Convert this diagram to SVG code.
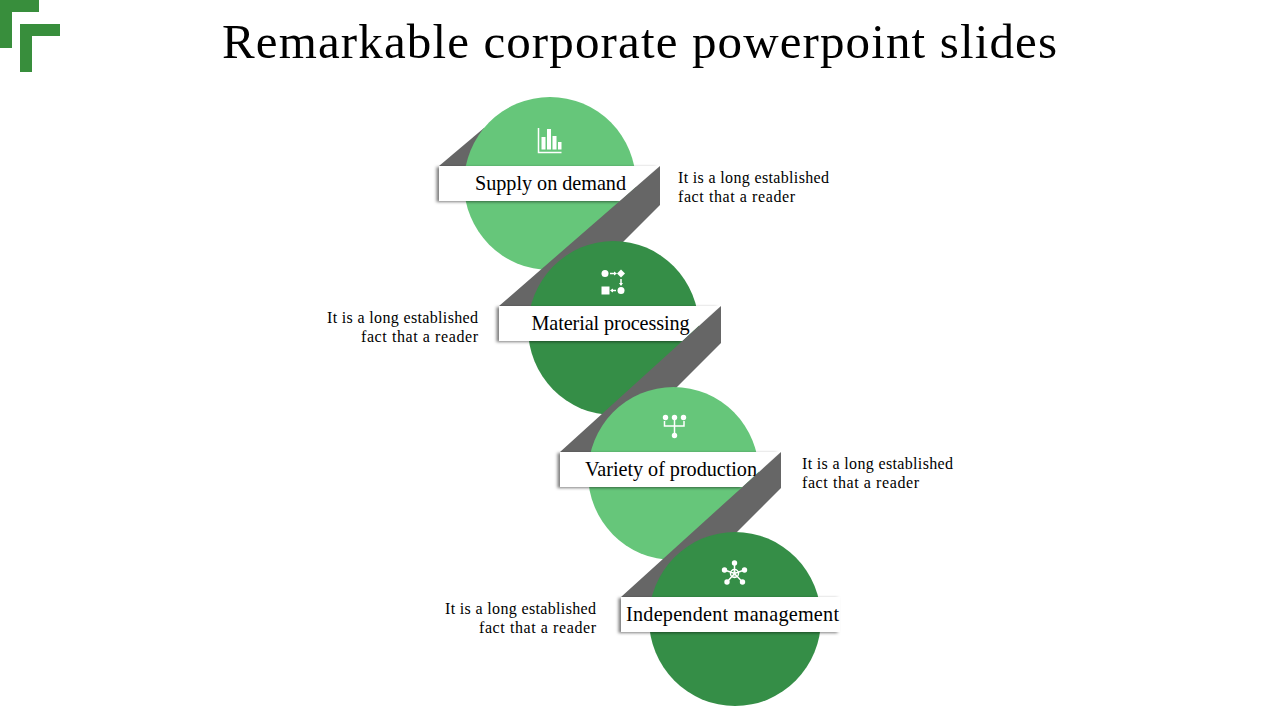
<svg xmlns="http://www.w3.org/2000/svg" width="1280" height="720" viewBox="0 0 1280 720">
<style>
text{font-family:"Liberation Serif","Times New Roman",serif;fill:#000}
.title{font-size:49px}
.lab{font-size:20.200px;text-anchor:middle}
.d{font-size:16px}
.e{text-anchor:end}
.light{fill:#66c67a}
.dark{fill:#358e47}
.rib{fill:#666}
.lbl{fill:#fff;filter:url(#sh)}
.ic{fill:#fff;stroke:none}
.il{fill:none;stroke:#fff;stroke-width:1.5}
</style>
<defs>
<filter id="sh" x="-5%" y="-20%" width="110%" height="150%"><feDropShadow dx="-2.500" dy="1" stdDeviation="1.800" flood-color="#000" flood-opacity=".5"/></filter>
</defs>
<rect width="1280" height="720" fill="#fff"/>
<g id="logo" fill="#388e3c">
<path d="M0 0H39V12H12V48H0Z"/>
<path d="M20 24H60V36H32V72H20Z"/>
</g>
<text id="title" class="title" x="222" y="58" textLength="835" lengthAdjust="spacing">Remarkable corporate powerpoint slides</text>
<g id="node-supply">
<path class="rib" d="M439 166L484 128L520 166Z"/>
<ellipse class="light" cx="550" cy="183.500" rx="86" ry="86.500"/>
<path class="lbl" d="M439 166H659L620.500 201H439Z"/>
<text class="lab" x="550.500" y="190" textLength="151" lengthAdjust="spacing">Supply on demand</text>
<g id="icon-chart">
<path class="il" d="M538.500 128V152.500H561.500"/>
<path class="ic" d="M541.500 137H545.500V149.500H541.500ZM547 129H551V149.500H547ZM552.500 136H556.500V149.500H552.500ZM558 142H561.500V149.500H558Z"/>
</g>
<text class="d" x="678" y="183" textLength="151" lengthAdjust="spacing">It is a long established</text>
<text class="d" x="678" y="202" textLength="117" lengthAdjust="spacing">fact that a reader</text>
</g>
<g id="node-material">
<path class="rib" d="M660 166V205L600 265L560 306H499Z"/>
<ellipse class="dark" cx="613.500" cy="328" rx="85.500" ry="87"/>
<path class="lbl" d="M499 306H720L682.500 341H499Z"/>
<text class="lab" x="610.500" y="330" textLength="158" lengthAdjust="spacing">Material processing</text>
<g id="icon-flow">
<circle class="ic" cx="605" cy="273.500" r="3.500"/>
<path class="ic" d="M621 269.500L625 273.500L621 277.500L617 273.500Z"/>
<path class="ic" d="M601.500 286.500H609.500V294.500H601.500Z"/>
<circle class="ic" cx="621" cy="290.500" r="3.500"/>
<path class="il" d="M610 273.500H615M621 279V285M616 290.500H611" stroke-width="1"/>
<path class="ic" d="M614 271.500L617 273.500L614 275.500ZM619 283L621 286L623 283ZM613 288.500L610 290.500L613 292.500Z"/>
</g>
<text class="d e" x="478" y="323" textLength="151" lengthAdjust="spacing">It is a long established</text>
<text class="d e" x="478" y="342" textLength="117" lengthAdjust="spacing">fact that a reader</text>
</g>
<g id="node-variety">
<path class="rib" d="M721 306V343L660 404L620 452H560Z"/>
<ellipse class="light" cx="673.500" cy="473.500" rx="85.500" ry="86.500"/>
<path class="lbl" d="M560 452H780L742.500 487H560Z"/>
<text class="lab" x="671" y="476" textLength="172" lengthAdjust="spacing">Variety of production</text>
<g id="icon-tree">
<circle class="ic" cx="665.500" cy="417.500" r="2.700"/>
<circle class="ic" cx="674.500" cy="417.500" r="2.700"/>
<circle class="ic" cx="683.500" cy="417.500" r="2.700"/>
<circle class="ic" cx="674.500" cy="435.500" r="2.700"/>
<path class="il" d="M664.500 421V426H684V421M674.500 420V433" stroke-width="1"/>
</g>
<text class="d" x="802" y="469" textLength="151" lengthAdjust="spacing">It is a long established</text>
<text class="d" x="802" y="488" textLength="117" lengthAdjust="spacing">fact that a reader</text>
</g>
<g id="node-independent">
<path class="rib" d="M781 452V488L720 549L680 597H621Z"/>
<ellipse class="dark" cx="735" cy="619" rx="86" ry="87"/>
<path class="lbl" d="M621 597H840V632H621Z"/>
<text class="lab" x="732.500" y="621" textLength="213" lengthAdjust="spacing">Independent management</text>
<g id="icon-hub">
<path class="il" d="M734.500 563V573M724.500 570L734.500 573.500L744.500 570M727 582L734.500 573.500L742.500 582" stroke-width="1.200"/>
<circle class="ic" cx="734.500" cy="563" r="2.700"/>
<circle class="ic" cx="724.500" cy="570" r="2.700"/>
<circle class="ic" cx="744.500" cy="570" r="2.700"/>
<circle class="ic" cx="727" cy="582" r="2.700"/>
<circle class="ic" cx="742.500" cy="582" r="2.700"/>
<circle class="il" cx="734.500" cy="573.500" r="4" stroke-width="1.200" fill="#358e47"/>
<path class="ic" d="M732.500 575.500H736.500V576.500H732.500ZM733.500 571.500H735.500V574.500H733.500Z"/>
</g>
<text class="d e" x="596" y="614" textLength="151" lengthAdjust="spacing">It is a long established</text>
<text class="d e" x="596" y="633" textLength="117" lengthAdjust="spacing">fact that a reader</text>
</g>
</svg>
